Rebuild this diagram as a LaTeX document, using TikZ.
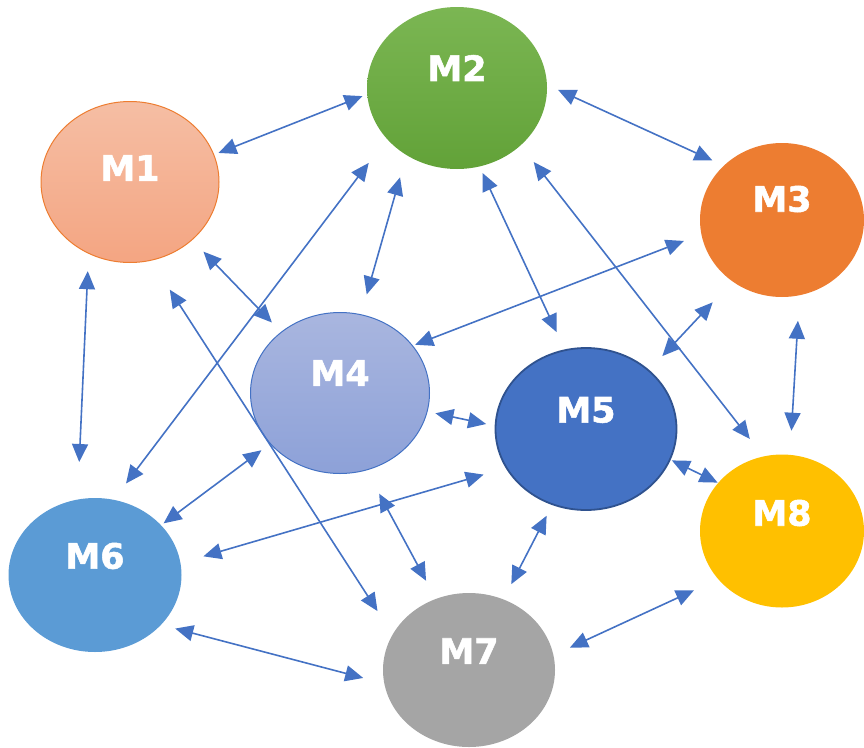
\documentclass[tikz,border=0pt]{standalone}
\usepackage{fontspec}
\setmainfont{DejaVu Sans}
\newfontfamily\tagfont[FakeBold=1.5]{DejaVu Sans Bold}
\usetikzlibrary{shapes.geometric,arrows.meta}

\definecolor{linkblue}{HTML}{4472C4}
\definecolor{mOneTop}{HTML}{F5BEA4}
\definecolor{mOneBot}{HTML}{F4A582}
\definecolor{mOneLine}{HTML}{ED7D31}
\definecolor{mTwoTop}{HTML}{7BB653}
\definecolor{mTwoBot}{HTML}{62A238}
\definecolor{mThree}{HTML}{ED7D31}
\definecolor{mFourTop}{HTML}{A9B6DF}
\definecolor{mFourBot}{HTML}{8DA1D8}
\definecolor{mFourLine}{HTML}{4472C4}
\definecolor{mFive}{HTML}{4472C4}
\definecolor{mFiveLine}{HTML}{2F528F}
\definecolor{mSix}{HTML}{5B9BD5}
\definecolor{mSeven}{HTML}{A5A5A5}
\definecolor{mEight}{HTML}{FFC000}

\begin{document}
\begin{tikzpicture}[x=1pt,y=-1pt,
  blob/.style={ellipse, inner sep=0pt},
  tag/.style={font=\tagfont\fontsize{35}{35}\selectfont, text=white, inner sep=0pt},
  link/.style={draw=linkblue, line width=1.6pt,
    arrows={Triangle[length=18pt 0 0,width=16pt 0 0]-Triangle[length=18pt 0 0,width=16pt 0 0]}}]

\useasboundingbox (0,0) rectangle (864,747);

% modules
\node[blob, minimum width=178pt, minimum height=161pt, top color=mOneTop, bottom color=mOneBot,
      draw=mOneLine, line width=1pt, label={[tag,yshift=14pt]center:M1}] (M1) at (130,182) {};
\node[blob, minimum width=180pt, minimum height=162pt, top color=mTwoTop, bottom color=mTwoBot,
      label={[tag,yshift=20pt]center:M2}] (M2) at (457,88) {};
\node[blob, minimum width=164pt, minimum height=154pt, fill=mThree,
      label={[tag,yshift=21pt]center:M3}] (M3) at (782,220) {};
\node[blob, minimum width=179pt, minimum height=161pt, top color=mFourTop, bottom color=mFourBot,
      draw=mFourLine, line width=1pt, label={[tag,yshift=20pt]center:M4}] (M4) at (340,393) {};
\node[blob, minimum width=181pt, minimum height=162pt, fill=mFive,
      draw=mFiveLine, line width=1.8pt, label={[tag,yshift=19pt]center:M5}] (M5) at (586,429) {};
\node[blob, minimum width=173pt, minimum height=154pt, fill=mSix,
      label={[tag,yshift=19pt]center:M6}] (M6) at (95,575) {};
\node[blob, minimum width=172pt, minimum height=154pt, fill=mSeven,
      label={[tag,yshift=19pt]center:M7}] (M7) at (469,670) {};
\node[blob, minimum width=164pt, minimum height=153pt, fill=mEight,
      label={[tag,yshift=18pt]center:M8}] (M8) at (782,531) {};

% two-way links
\draw[link, shorten <=4.6pt, shorten >=5pt]    (M1.18)  -- (M2.184);
\draw[link, shorten <=12pt,  shorten >=12.4pt] (M2.2)   -- (M3.137);
\draw[link, shorten <=17.4pt,shorten >=37.4pt] (M1.240) -- (M6.103);
\draw[link, shorten <=30pt,  shorten >=20.3pt] (M2.216) -- (M6.76);
\draw[link, shorten <=16pt,  shorten >=13pt]   (M1.317) -- (M4.134);
\draw[link, shorten <=23pt,  shorten >=20.6pt] (M2.233) -- (M4.75);
\draw[link, shorten <=7pt,   shorten >=19pt]   (M2.286) -- (M5.105);
\draw[link, shorten <=21pt,  shorten >=22pt]   (M2.318) -- (M8.104);
\draw[link, shorten <=18.6pt,shorten >=2.4pt]  (M3.190) -- (M4.33);
\draw[link, shorten <=28.6pt,shorten >=19pt]   (M3.231) -- (M5.43);
\draw[link, shorten <=25.4pt,shorten >=24pt]   (M3.283) -- (M8.84);
\draw[link, shorten <=8pt,   shorten >=8.7pt]  (M4.348) -- (M5.178);
\draw[link, shorten <=1.3pt, shorten >=0.5pt]  (M5.340) -- (M8.143);
\draw[link, shorten <=10.6pt,shorten >=3pt]    (M4.216) -- (M6.37);
\draw[link, shorten <=23pt,  shorten >=23.7pt] (M5.206) -- (M6.8);
\draw[link, shorten <=34.5pt,shorten >=27.7pt] (M1.285) -- (M7.155);
\draw[link, shorten <=26.5pt,shorten >=20.5pt] (M4.289) -- (M7.115);
\draw[link, shorten <=12pt,  shorten >=17pt]   (M5.246) -- (M7.64);
\draw[link, shorten <=14.5pt,shorten >=21.6pt] (M6.323) -- (M7.189);
\draw[link, shorten <=18pt,  shorten >=26.5pt] (M7.10)  -- (M8.217);
\end{tikzpicture}
\end{document}
